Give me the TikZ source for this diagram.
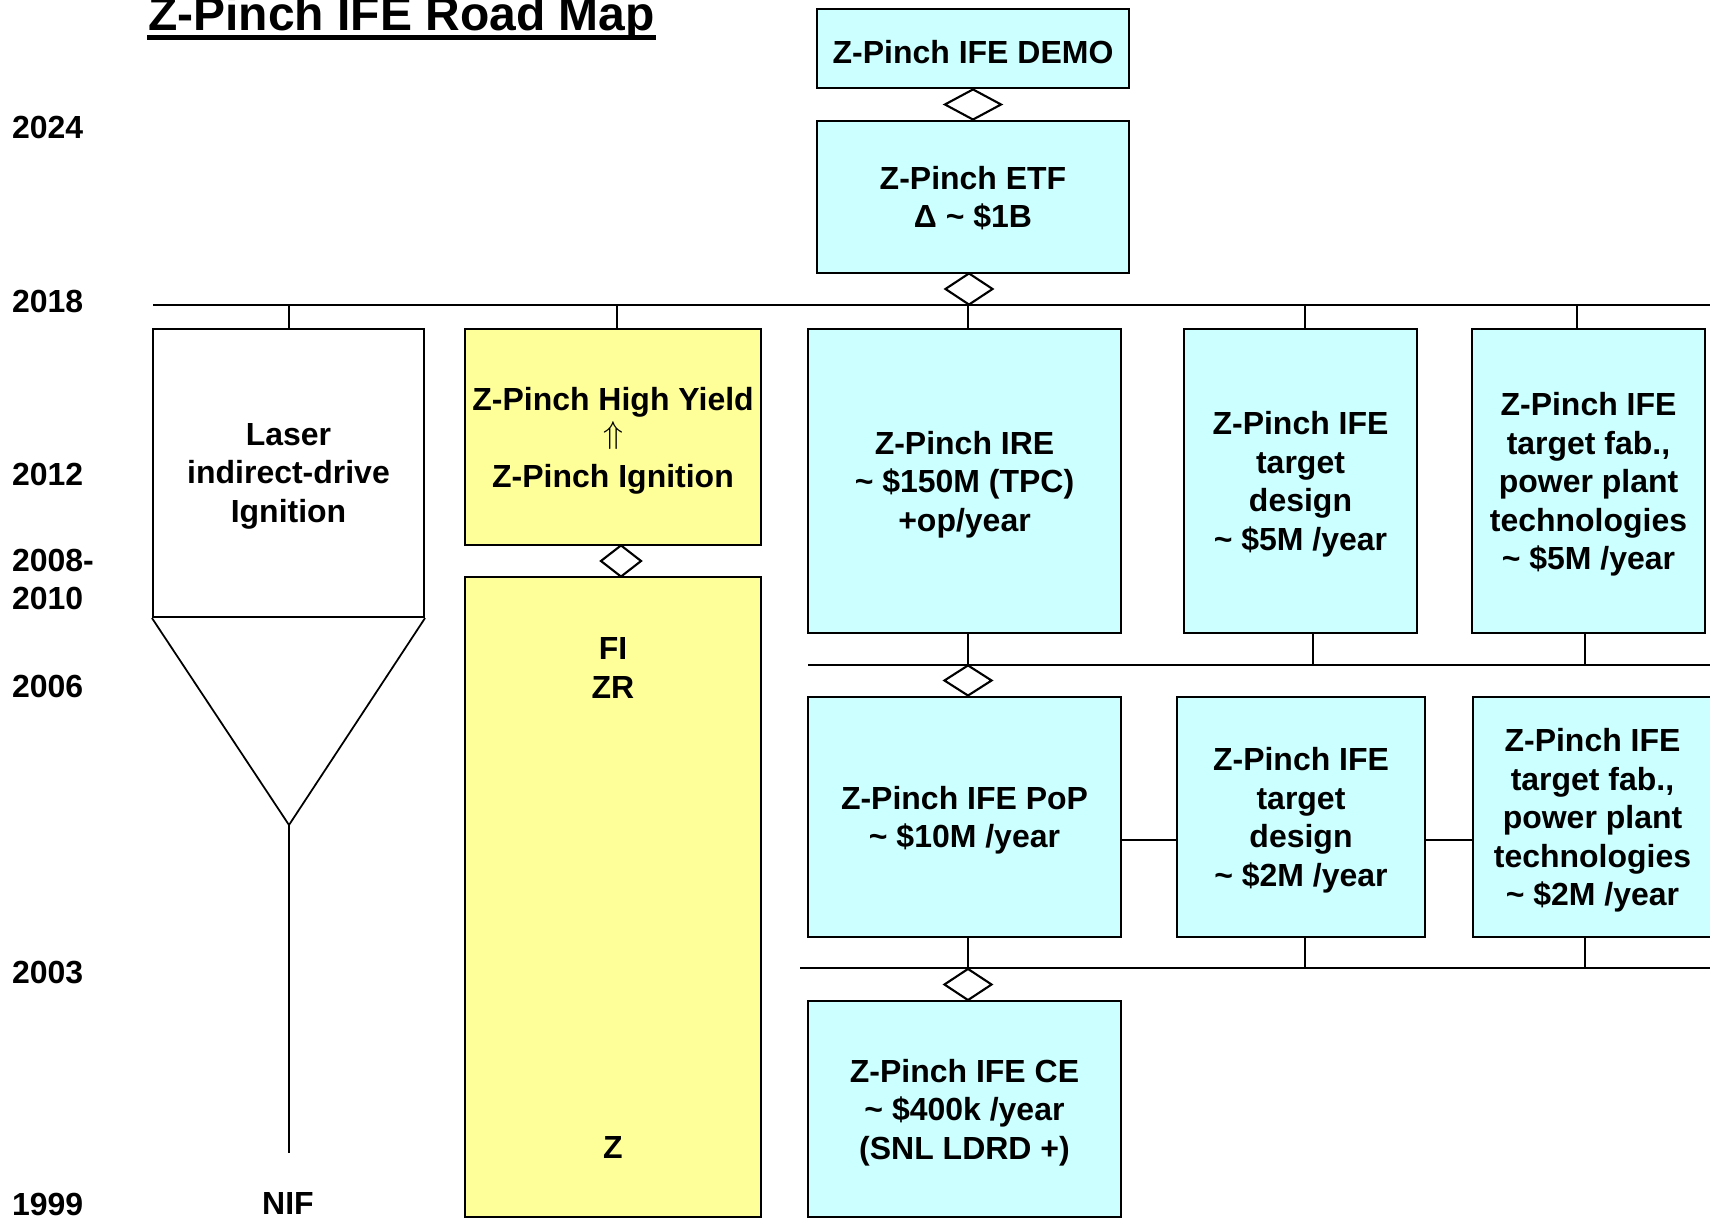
\documentclass[tikz,border=0pt]{standalone}
\usepackage{fontspec}
\setmainfont{Liberation Sans}
\usetikzlibrary{shapes.geometric}
\definecolor{aqua}{HTML}{CCFFFF}
\definecolor{lemon}{HTML}{FFFF99}
\begin{document}
\begin{tikzpicture}[x=0.1mm,y=-0.1mm,line width=0.6pt,
        font=\bfseries\fontsize{9.1}{10.95}\selectfont,
        stage/.style={draw,align=center,inner sep=0pt,text depth=0pt,execute at begin node={\rule{0pt}{8.5pt}}},
        plan/.style={stage,fill=aqua},
        zpin/.style={stage,fill=lemon},
        gate/.style={diamond,draw,fill=white,inner sep=0pt,minimum width=4.8mm,minimum height=3.2mm},
        year/.style={anchor=west,align=left,inner sep=0pt}]
    \useasboundingbox (0,0) rectangle (1710,1221);
    % title and years
    \node[anchor=base west,inner sep=0pt,font=\bfseries\fontsize{13.66}{16}\selectfont] (title) at (147,31) {Z-Pinch IFE Road Map};
    \draw[line width=1.4pt] ([yshift=-0.65mm]title.base west) -- ([yshift=-0.65mm]title.base east);
    \foreach \y/\t in {128/2024,301/2018,474/2012,579.5/{2008-\\2010},686/2006,973/2003,1204/1999}
        \node[year] at (11,\y) {\t};
    % bus lines
    \coordinate (bus18) at (153,305);
    \coordinate (bus18e) at (1712,305);
    \coordinate (bus06) at (808,665);
    \coordinate (bus06e) at (1712,665);
    \coordinate (bus03) at (800,968);
    \coordinate (bus03e) at (1712,968);
    \draw (bus18)--(bus18e);
    \draw (bus06)--(bus06e);
    \draw (bus03)--(bus03e);
    % boxes
    \node[plan,minimum width=31.2mm,minimum height=7.9mm] (demo) at (973,48.5) {Z-Pinch IFE DEMO};
    \node[plan,minimum width=31.2mm,minimum height=15.2mm] (etf) at (973,197) {Z-Pinch ETF\\Δ \textasciitilde{} \$1B};
    \node[stage,fill=white,minimum width=27.1mm,minimum height=28.8mm] (laser) at (288.5,473) {Laser\\indirect-drive\\Ignition};
    \node[zpin,minimum width=29.6mm,minimum height=21.6mm] (hy) at (613,437) {Z-Pinch High Yield\\\raisebox{1.5pt}{$\Uparrow$}\\Z-Pinch Ignition};
    \node[zpin,minimum width=29.6mm,minimum height=64mm] (zr) at (613,897) {};
    \node[plan,minimum width=31.3mm,minimum height=30.4mm] (ire) at (964.5,481) {Z-Pinch IRE\\\textasciitilde{} \$150M (TPC)\\+op/year};
    \node[plan,minimum width=23.3mm,minimum height=30.4mm] (tdes1) at (1300.5,481) {Z-Pinch IFE\\target\\design\\\textasciitilde{} \$5M /year};
    \node[plan,minimum width=23.3mm,minimum height=30.4mm] (tfab1) at (1588.5,481) {Z-Pinch IFE\\target fab.,\\power plant\\technologies\\\textasciitilde{} \$5M /year};
    \node[plan,minimum width=31.3mm,minimum height=24mm] (pop) at (964.5,817) {Z-Pinch IFE PoP\\\textasciitilde{} \$10M /year};
    \node[plan,minimum width=24.8mm,minimum height=24mm] (tdes2) at (1301,817) {Z-Pinch IFE\\target\\design\\\textasciitilde{} \$2M /year};
    \node[plan,minimum width=23.9mm,minimum height=24mm] (tfab2) at (1592.5,817) {Z-Pinch IFE\\target fab.,\\power plant\\technologies\\\textasciitilde{} \$2M /year};
    \node[plan,minimum width=31.3mm,minimum height=21.6mm] (ce) at (964.5,1109) {Z-Pinch IFE CE\\\textasciitilde{} \$400k /year\\(SNL LDRD +)};
    \node[align=center,inner sep=0pt] (fizr) at (613,668) {FI\\ZR};
    \node[inner sep=0pt] (zlab) at (613,1147) {Z};
    % laser funnel
    \coordinate (apex) at (289,825);
    \coordinate (nifend) at (289,1153);
    \draw[line width=0.5pt] (laser.south west)--(apex)--(laser.south east);
    \draw (apex)--(nifend);
    \node[inner sep=0pt] (nif) at (288,1203) {NIF};
    % ticks
    \foreach \n/\x in {laser/289,hy/617,ire/968,tdes1/1305,tfab1/1577}
        \draw (\n.north -| \x,0)--(bus18 -| \x,0);
    \foreach \n/\x in {ire/968,tdes1/1313,tfab1/1585}
        \draw (\n.south -| \x,0)--(bus06 -| \x,0);
    \foreach \n/\x in {pop/968,tdes2/1305,tfab2/1585}
        \draw (\n.south -| \x,0)--(bus03 -| \x,0);
    \draw (pop.east |- 0,840)--(tdes2.west |- 0,840);
    \draw (tdes2.east |- 0,840)--(tfab2.west |- 0,840);
    % gates
    \node[gate,minimum width=5.7mm,minimum height=3.1mm] (g1) at (973,104.5) {};
    \node[gate] (g2) at (969,289) {};
    \node[gate,minimum width=4.1mm] (gh) at (621,561) {};
    \node[gate,minimum height=3.1mm] (g3) at (968,680.5) {};
    \node[gate] (g4) at (968,984.5) {};
\end{tikzpicture}
\end{document}
